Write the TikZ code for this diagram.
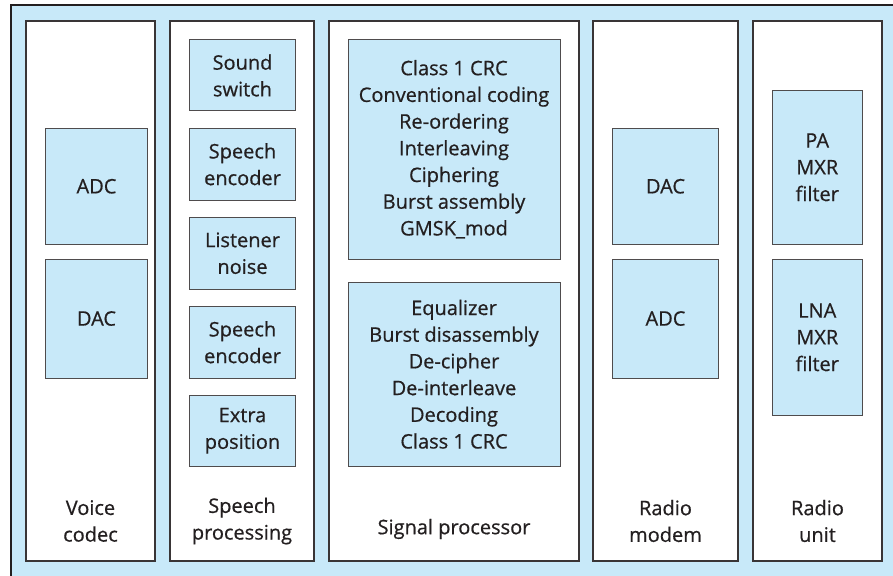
\documentclass[tikz,border=0pt]{standalone}
\usepackage{fontspec}
\setmainfont[FakeBold=0.6]{Open Sans}
\definecolor{bgblue}{RGB}{200,233,249}
\definecolor{inkc}{RGB}{35,31,32}
\begin{document}
\begin{tikzpicture}[x=1pt,y=-1pt,
  colbox/.style={draw=inkc!90,line width=1.4pt,fill=white,rectangle,inner sep=0pt},
  blk/.style={draw=inkc!80,line width=1pt,fill=bgblue,rectangle,inner sep=0pt,align=center,text=inkc,
    font=\fontsize{20}{26.7}\selectfont},
  lbl/.style={align=center,text=inkc,font=\fontsize{20}{26.7}\selectfont,inner sep=0pt},
  bx/.style args={#1,#2,#3,#4}{minimum width=#3-#1, minimum height=#4-#2}
]
\useasboundingbox (0,0) rectangle (893,575);
\fill[bgblue] (11,5) rectangle (900,580);
\draw[inkc,line width=2pt] (11,590) -- (11,5) -- (900,5);
% columns
\node[colbox,bx={26,21,155,561}] (vc) at (90.5,291) {};
\node[colbox,bx={170,21,314,561}] (sp) at (242,291) {};
\node[colbox,bx={329,21,579,561}] (sig) at (454,291) {};
\node[colbox,bx={593,21,738,561}] (rm) at (665.5,291) {};
\node[colbox,bx={753,21,882,561}] (ru) at (817.5,291) {};
% column labels
\node[lbl] (vcl) at (90.5,521) {Voice\\codec};
\node[lbl] (spl) at (242,521) {Speech\\processing};
\node[lbl] (sigl) at (454,529) {Signal processor};
\node[lbl] (rml) at (665.5,521) {Radio\\modem};
\node[lbl] (rul) at (817.5,521) {Radio\\unit};
% voice codec
\node[blk,bx={45.5,128.5,147.5,244}] (adc1) at (96.5,186.25) {ADC};
\node[blk,bx={45.5,259,147.5,378}] (dac1) at (96.5,318.5) {DAC};
% speech processing
\node[blk,bx={189.5,40,295.5,111}] (ss) at (242.5,75.5) {Sound\\switch};
\node[blk,bx={189.5,128.5,295.5,200}] (se1) at (242.5,164.25) {Speech\\encoder};
\node[blk,bx={189.5,217.5,295.5,289}] (ln) at (242.5,253.25) {Listener\\noise};
\node[blk,bx={189.5,306.5,295.5,378}] (se2) at (242.5,342.25) {Speech\\encoder};
\node[blk,bx={189.5,395,295.5,466.5}] (ep) at (242.5,430.75) {Extra\\position};
% signal processor
\node[blk,bx={348,39.5,560,259}] (tx) at (454,149.25) {Class 1 CRC\\Conventional coding\\Re-ordering\\Interleaving\\Ciphering\\Burst assembly\\GMSK\_mod};
\node[blk,bx={348,282,560,466.5}] (rx) at (454,374.25) {Equalizer\\Burst disassembly\\De-cipher\\De-interleave\\Decoding\\Class 1 CRC};
% radio modem
\node[blk,bx={612.5,128.5,718.5,244}] (dac2) at (665.5,186.25) {DAC};
\node[blk,bx={612.5,259,718.5,378}] (adc2) at (665.5,318.5) {ADC};
% radio unit
\node[blk,bx={772,90.5,862.5,244}] (pa) at (817.25,167.25) {PA\\MXR\\filter};
\node[blk,bx={772,259,862.5,415.5}] (lna) at (817.25,337.25) {LNA\\MXR\\filter};
\end{tikzpicture}
\end{document}
